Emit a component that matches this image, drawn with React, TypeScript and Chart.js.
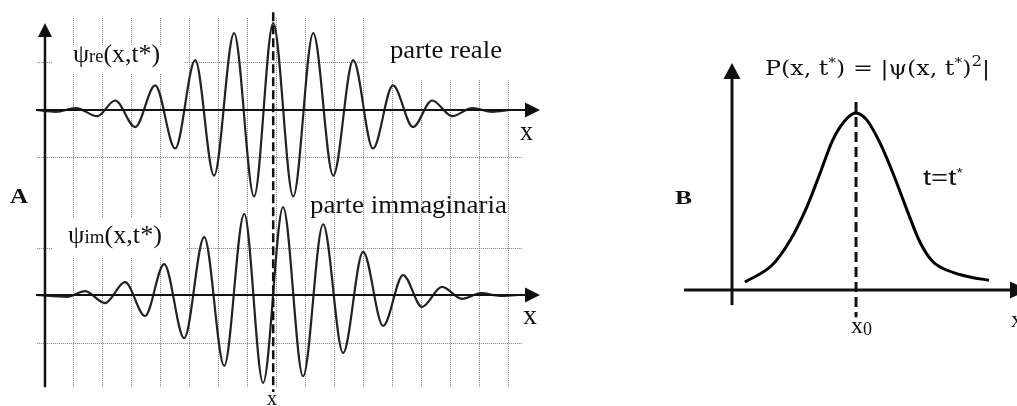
import { useEffect, useRef } from 'react';
import { Chart, registerables } from 'chart.js';

Chart.register(...registerables);

// ---- Panel A: wave packet at t = t* (extrema and end points along x) ----
const reX = [-0.28, 0.41, 1.1, 1.83, 2.45, 3.14, 3.83, 4.52, 5.21, 5.86, 6.55, 7.24, 7.9, 8.59, 9.28, 9.97, 10.66, 11.34, 12.03, 12.72, 13.38, 14.07, 14.76, 15.45, 16.07];
const reY = [0, -0.04, 0.04, -0.13, 0.2, -0.36, 0.52, -0.81, 1.05, -1.38, 1.62, -1.82, 1.83, -1.82, 1.62, -1.38, 1.05, -0.81, 0.52, -0.36, 0.2, -0.13, 0.04, -0.04, 0];
const imX = [-0.28, 0.79, 1.41, 2.1, 2.79, 3.48, 4.14, 4.83, 5.52, 6.21, 6.9, 7.55, 8.24, 8.93, 9.62, 10.31, 11.0, 11.69, 12.38, 13.03, 13.72, 14.41, 15.07, 15.72, 16.34];
const imY = [0, -0.04, 0.08, -0.17, 0.27, -0.44, 0.65, -0.91, 1.22, -1.49, 1.71, -1.85, 1.85, -1.71, 1.49, -1.22, 0.91, -0.65, 0.42, -0.25, 0.17, -0.08, 0.04, -0.02, 0];
const gridX = [1, 2, 3, 4, 5, 6, 7, 8, 9, 10, 11, 12, 13, 14, 15, 16];
const gridY = [-1, 1];
const centerX = 7.9;

// ---- Panel B: probability density |psi|^2 ----
const pX = [0.52, 1.61, 2.34, 3.02, 3.55, 4.07, 4.64, 5.0, 5.44, 5.97, 6.49, 7.06, 7.58, 8.1, 8.91, 9.72, 10.36];
const pY = [0.045, 0.14, 0.28, 0.47, 0.66, 0.85, 0.97, 1.0, 0.96, 0.83, 0.66, 0.45, 0.27, 0.16, 0.1, 0.07, 0.056];
const peakX = 5.0;

const SERIF = '"Liberation Serif", "Times New Roman", serif';
const MATH = '"DejaVu Serif", "Liberation Serif", serif';
const SANS = '"Liberation Sans", Arial, sans-serif';
const INK = '#111';

type Run = { t: string; font: string; dy?: number };

// Draws a row of text runs on one baseline; optionally stretched to a given width.
function drawRuns(ctx: CanvasRenderingContext2D, runs: Run[], x: number, y: number, width?: number) {
  ctx.save();
  const widths = runs.map((r) => {
    ctx.font = r.font;
    return ctx.measureText(r.t).width;
  });
  const total = widths.reduce((a, b) => a + b, 0);
  const sx = width ? width / total : 1;
  ctx.translate(x, y);
  ctx.scale(sx, 1);
  ctx.fillStyle = INK;
  ctx.textAlign = 'left';
  ctx.textBaseline = 'alphabetic';
  let cx = 0;
  runs.forEach((r, i) => {
    ctx.font = r.font;
    ctx.fillText(r.t, cx, r.dy ?? 0);
    cx += widths[i];
  });
  ctx.restore();
}

function arrowUp(ctx: CanvasRenderingContext2D, x: number, tipY: number, half: number, len: number) {
  ctx.beginPath();
  ctx.moveTo(x, tipY);
  ctx.lineTo(x - half, tipY + len);
  ctx.lineTo(x + half, tipY + len);
  ctx.closePath();
  ctx.fill();
}

function arrowRight(ctx: CanvasRenderingContext2D, tipX: number, y: number, half: number, len: number) {
  ctx.beginPath();
  ctx.moveTo(tipX, y);
  ctx.lineTo(tipX - len, y - half);
  ctx.lineTo(tipX - len, y + half);
  ctx.closePath();
  ctx.fill();
}

const panelA = {
  id: 'panelA',
  beforeDatasetsDraw(chart: any) {
    const { ctx, scales } = chart;
    const sx = scales.x;
    const yRe = scales.yRe;
    const yIm = scales.yIm;
    ctx.save();
    // dotted grid
    ctx.strokeStyle = '#7a7a7a';
    ctx.lineWidth = 1;
    ctx.setLineDash([1, 1]);
    const gTop = yRe.getPixelForValue(1.94);
    const gBottom = yIm.getPixelForValue(-1.94);
    for (const g of gridX) {
      const px = Math.round(sx.getPixelForValue(g)) + 0.5;
      ctx.beginPath();
      ctx.moveTo(px, gTop);
      ctx.lineTo(px, gBottom);
      ctx.stroke();
    }
    const hx0 = sx.getPixelForValue(-0.24);
    const hx1 = sx.getPixelForValue(16.5);
    for (const s of [yRe, yIm]) {
      for (const g of gridY) {
        const py = Math.round(s.getPixelForValue(g)) + 0.5;
        ctx.beginPath();
        ctx.moveTo(hx0, py);
        ctx.lineTo(hx1, py);
        ctx.stroke();
      }
    }
    ctx.setLineDash([]);
    // clear space behind the labels
    ctx.fillStyle = '#fff';
    ctx.fillRect(52, 45, 132, 28);
    ctx.fillRect(368, 0, 155, 80);
    ctx.fillRect(52, 218, 135, 39);
    ctx.restore();

    drawRuns(ctx, [
      { t: 'ψ', font: `25px ${SERIF}` },
      { t: 're', font: `18px ${SERIF}` },
      { t: '(x,t*)', font: `25px ${SERIF}` },
    ], 73, 62, 87);
    drawRuns(ctx, [
      { t: 'ψ', font: `25px ${SERIF}` },
      { t: 'im', font: `18px ${SERIF}` },
      { t: '(x,t*)', font: `25px ${SERIF}` },
    ], 68, 243, 94);
    drawRuns(ctx, [{ t: 'parte reale', font: `26px ${SERIF}` }], 390, 58, 112);
    drawRuns(ctx, [{ t: 'parte immaginaria', font: `26px ${SERIF}` }], 310, 213, 197);
    drawRuns(ctx, [{ t: 'x', font: `27px ${SERIF}` }], 520, 140, 13);
    drawRuns(ctx, [{ t: 'x', font: `27px ${SERIF}` }], 523, 324, 14);
    drawRuns(ctx, [{ t: 'x', font: `21px ${SERIF}` }], 267, 405, 10);
    drawRuns(ctx, [{ t: 'A', font: `bold 22px ${SERIF}` }], 10, 203, 18);
  },
  afterDatasetsDraw(chart: any) {
    const { ctx, scales, chartArea } = chart;
    const sx = scales.x;
    const yRe = scales.yRe;
    const yIm = scales.yIm;
    ctx.save();
    ctx.strokeStyle = INK;
    ctx.fillStyle = INK;
    // horizontal axes with arrows
    const tipX = chartArea.right;
    const axisL = sx.getPixelForValue(-0.28);
    for (const s of [yRe, yIm]) {
      const py = s.getPixelForValue(0);
      ctx.lineWidth = 2;
      ctx.beginPath();
      ctx.moveTo(axisL, py);
      ctx.lineTo(tipX - 10, py);
      ctx.stroke();
      arrowRight(ctx, tipX, py, 7.5, 15);
    }
    // vertical axis with arrow
    const ax = sx.getPixelForValue(0.03);
    const tipY = yRe.getPixelForValue(1.83);
    ctx.lineWidth = 2.5;
    ctx.beginPath();
    ctx.moveTo(ax, tipY + 10);
    ctx.lineTo(ax, yIm.getPixelForValue(-1.94));
    ctx.stroke();
    arrowUp(ctx, ax, tipY, 7, 14);
    // dashed line through the packet centre
    const cx = sx.getPixelForValue(centerX);
    ctx.setLineDash([9, 4]);
    ctx.lineWidth = 2.5;
    ctx.beginPath();
    ctx.moveTo(cx, yRe.getPixelForValue(2.06));
    ctx.lineTo(cx, yIm.getPixelForValue(-2.04));
    ctx.stroke();
    ctx.restore();
  },
};

const panelB = {
  id: 'panelB',
  afterDatasetsDraw(chart: any) {
    const { ctx, scales, chartArea } = chart;
    const sx = scales.x;
    const sy = scales.y;
    ctx.save();
    ctx.strokeStyle = INK;
    ctx.fillStyle = INK;
    ctx.lineWidth = 3;
    // x axis
    const ay = sy.getPixelForValue(0);
    ctx.beginPath();
    ctx.moveTo(chartArea.left, ay);
    ctx.lineTo(355, ay);
    ctx.stroke();
    arrowRight(ctx, 368, ay, 8.5, 18);
    // y axis
    const ax = sx.getPixelForValue(0);
    const tipY = sy.getPixelForValue(1.282);
    ctx.beginPath();
    ctx.moveTo(ax, sy.getPixelForValue(-0.085));
    ctx.lineTo(ax, tipY + 12);
    ctx.stroke();
    arrowUp(ctx, ax, tipY, 8.5, 16);
    // dashed line at the peak
    const px = sx.getPixelForValue(peakX);
    ctx.setLineDash([10, 5]);
    ctx.lineWidth = 3;
    ctx.beginPath();
    ctx.moveTo(px, sy.getPixelForValue(1.062));
    ctx.lineTo(px, sy.getPixelForValue(-0.153));
    ctx.stroke();
    ctx.restore();

    drawRuns(ctx, [
      { t: 'P(x, t', font: `20px ${MATH}` },
      { t: '*', font: `13px ${MATH}`, dy: -8 },
      { t: ') = |ψ(x, t', font: `20px ${MATH}` },
      { t: '*', font: `13px ${MATH}`, dy: -8 },
      { t: ')', font: `20px ${MATH}` },
      { t: '2', font: `14px ${MATH}`, dy: -9 },
      { t: '|', font: `20px ${MATH}` },
    ], 105, 75, 225);
    drawRuns(ctx, [{ t: 'B', font: `bold 19px ${SERIF}` }], 15, 204, 17);
    drawRuns(ctx, [
      { t: 't=t', font: `22px ${SANS}` },
      { t: '*', font: `13px ${SANS}`, dy: -8 },
    ], 263, 185, 40);
    drawRuns(ctx, [
      { t: 'x', font: `24px ${SERIF}` },
      { t: '0', font: `18px ${SERIF}`, dy: 2 },
    ], 191, 333);
    drawRuns(ctx, [{ t: 'x', font: `24px ${SERIF}` }], 351, 327);
  },
};

export default function App() {
  const aRef = useRef<HTMLCanvasElement>(null);
  const bRef = useRef<HTMLCanvasElement>(null);

  useEffect(() => {
    const line = { borderColor: '#222', borderWidth: 2.2, pointRadius: 0, fill: false, cubicInterpolationMode: 'monotone' as const };
    const a = new Chart(aRef.current!, {
      type: 'line',
      data: {
        datasets: [
          { ...line, data: reX.map((x, i) => ({ x, y: reY[i] })), yAxisID: 'yRe' },
          { ...line, data: imX.map((x, i) => ({ x, y: imY[i] })), yAxisID: 'yIm' },
        ],
      },
      options: {
        responsive: false,
        animation: false,
        devicePixelRatio: 1,
        events: [],
        layout: { padding: { left: 36, right: 20, top: 10, bottom: 6 } },
        plugins: { legend: { display: false }, tooltip: { enabled: false } },
        scales: {
          x: { type: 'linear', min: -0.28, max: 17.1, display: false },
          yRe: { type: 'linear', min: -6.105, max: 2.105, display: false },
          yIm: { type: 'linear', min: -2.2105, max: 6.0, display: false },
        },
      },
      plugins: [panelA],
    });
    const b = new Chart(bRef.current!, {
      type: 'line',
      data: {
        datasets: [
          { ...line, borderColor: '#000', borderWidth: 3, data: pX.map((x, i) => ({ x, y: pY[i] })) },
        ],
      },
      options: {
        responsive: false,
        animation: false,
        devicePixelRatio: 1,
        events: [],
        layout: { padding: { left: 24, right: 0, top: 50, bottom: 6 } },
        plugins: { legend: { display: false }, tooltip: { enabled: false } },
        scales: {
          x: { type: 'linear', min: -1.935, max: 11.49, display: false },
          y: { type: 'linear', min: -0.621, max: 1.356, display: false },
        },
      },
      plugins: [panelB],
    });
    return () => {
      a.destroy();
      b.destroy();
    };
  }, []);

  return (
    <div style={{ position: 'fixed', left: 0, top: 0, width: 1017, height: 406, background: '#fff', overflow: 'hidden' }}>
      <canvas ref={aRef} width={560} height={406} style={{ position: 'absolute', left: 0, top: 0, width: 560, height: 406 }} />
      <canvas ref={bRef} width={357} height={406} style={{ position: 'absolute', left: 660, top: 0, width: 357, height: 406 }} />
    </div>
  );
}
